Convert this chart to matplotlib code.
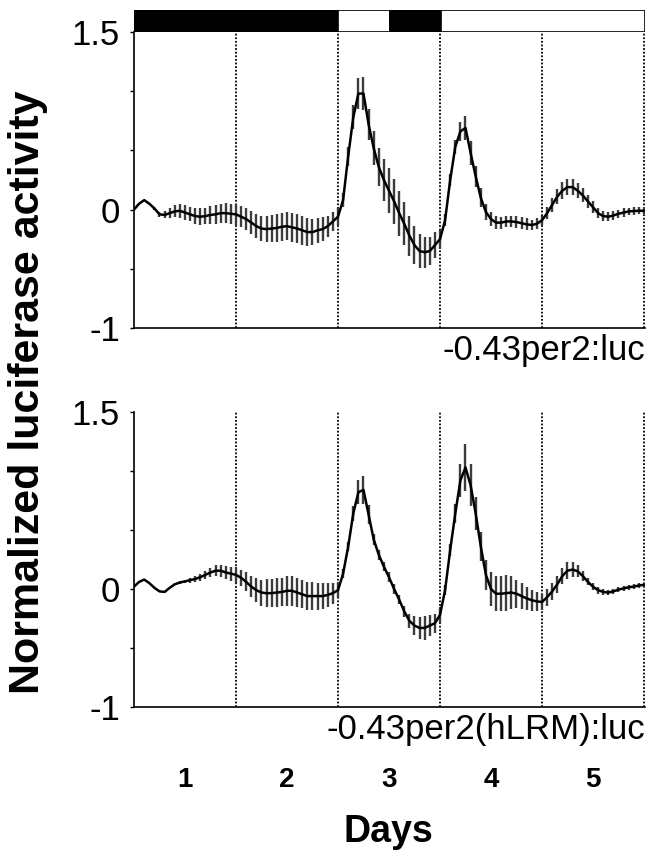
import numpy as np
import matplotlib
matplotlib.use("Agg")
import matplotlib.pyplot as plt

plt.rcParams['font.family'] = ['Liberation Sans', 'DejaVu Sans']

# sampling every 0.05 day (20 points per day), days 0..5
step_days = 0.05

# -0.43per2:luc
top_mean = [
    0.00, 0.05, 0.08, 0.05, 0.01, -0.04, -0.045, -0.03, -0.015, -0.01,
    -0.025, -0.04, -0.055, -0.06, -0.055, -0.045, -0.04, -0.03, -0.03, -0.035,
    -0.04, -0.06, -0.08, -0.11, -0.14, -0.16, -0.165, -0.16, -0.155, -0.145,
    -0.14, -0.15, -0.16, -0.175, -0.19, -0.19, -0.175, -0.165, -0.14, -0.10,
    -0.06, 0.08, 0.45, 0.78, 0.98, 0.98, 0.72, 0.52, 0.36, 0.25,
    0.16, 0.07, -0.03, -0.12, -0.22, -0.30, -0.35, -0.36, -0.35, -0.30,
    -0.25, -0.09, 0.25, 0.53, 0.66, 0.69, 0.48, 0.28, 0.10, -0.02,
    -0.08, -0.11, -0.11, -0.10, -0.10, -0.105, -0.115, -0.125, -0.13, -0.12,
    -0.09, -0.03, 0.04, 0.11, 0.16, 0.19, 0.19, 0.16, 0.12, 0.07,
    0.02, -0.03, -0.055, -0.06, -0.05, -0.035, -0.025, -0.015, -0.012, -0.01,
    -0.01,
]
top_err = [
    0, 0, 0, 0, 0.01, 0.02, 0.03, 0.04, 0.05, 0.06,
    0.06, 0.06, 0.065, 0.07, 0.07, 0.075, 0.08, 0.08, 0.085, 0.085,
    0.09, 0.09, 0.09, 0.095, 0.10, 0.105, 0.11, 0.115, 0.12, 0.12,
    0.12, 0.12, 0.12, 0.12, 0.115, 0.11, 0.105, 0.10, 0.09, 0.08,
    0.07, 0.06, 0.08, 0.10, 0.13, 0.14, 0.13, 0.14, 0.16, 0.18,
    0.19, 0.19, 0.19, 0.18, 0.17, 0.16, 0.14, 0.13, 0.12, 0.11,
    0.08, 0.05, 0.05, 0.06, 0.08, 0.10, 0.10, 0.09, 0.08, 0.07,
    0.06, 0.055, 0.05, 0.05, 0.05, 0.05, 0.05, 0.05, 0.045, 0.045,
    0.04, 0.05, 0.06, 0.065, 0.07, 0.07, 0.07, 0.065, 0.06, 0.055,
    0.05, 0.045, 0.045, 0.04, 0.04, 0.035, 0.035, 0.03, 0.03, 0.03,
    0.03,
]

# -0.43per2(hLRM):luc
bot_mean = [
    0.02, 0.06, 0.08, 0.05, 0.01, -0.02, -0.025, 0.01, 0.04, 0.055,
    0.065, 0.075, 0.085, 0.10, 0.12, 0.14, 0.155, 0.155, 0.14, 0.13,
    0.12, 0.095, 0.06, 0.02, -0.01, -0.03, -0.036, -0.035, -0.03, -0.025,
    -0.015, -0.015, -0.03, -0.045, -0.06, -0.06, -0.06, -0.06, -0.05, -0.035,
    -0.01, 0.13, 0.36, 0.64, 0.82, 0.84, 0.63, 0.42, 0.29, 0.19,
    0.10, 0.00, -0.09, -0.19, -0.27, -0.31, -0.33, -0.33, -0.31, -0.29,
    -0.22, -0.01, 0.33, 0.64, 0.92, 1.03, 0.88, 0.64, 0.36, 0.12,
    0.00, -0.04, -0.04, -0.035, -0.03, -0.04, -0.06, -0.08, -0.095, -0.105,
    -0.11, -0.07, -0.02, 0.04, 0.11, 0.155, 0.165, 0.15, 0.11, 0.06,
    0.02, -0.01, -0.025, -0.03, -0.02, -0.005, 0.005, 0.015, 0.02, 0.03,
    0.035,
]
bot_err = [
    0, 0, 0, 0, 0, 0, 0, 0.005, 0.01, 0.01,
    0.015, 0.02, 0.025, 0.03, 0.035, 0.04, 0.045, 0.05, 0.055, 0.06,
    0.065, 0.07, 0.08, 0.09, 0.10, 0.11, 0.12, 0.12, 0.12, 0.12,
    0.125, 0.125, 0.125, 0.12, 0.12, 0.12, 0.115, 0.11, 0.10, 0.09,
    0.07, 0.04, 0.04, 0.06, 0.10, 0.12, 0.08, 0.05, 0.04, 0.04,
    0.04, 0.04, 0.04, 0.05, 0.06, 0.08, 0.09, 0.10, 0.09, 0.08,
    0.07, 0.04, 0.05, 0.08, 0.14, 0.20, 0.18, 0.14, 0.12, 0.13,
    0.14, 0.15, 0.15, 0.15, 0.14, 0.12, 0.11, 0.10, 0.09, 0.08,
    0.07, 0.07, 0.07, 0.07, 0.07, 0.07, 0.06, 0.05, 0.04, 0.03,
    0.03, 0.03, 0.025, 0.025, 0.02, 0.02, 0.02, 0.02, 0.02, 0.02,
    0.02,
]

# light/dark bar on top
light_start = [0, 2, 2.5, 3]
light_end = [2, 2.5, 3, 5]
light_dark = [True, False, True, False]

day_labels = ['1', '2', '3', '4', '5']
panel_names = ['-0.43per2:luc', '-0.43per2(hLRM):luc']

W, H = 649, 856
fig = plt.figure(figsize=(W / 100, H / 100), dpi=100)

def box(x0, y0, x1, y1):
    # pixel box -> figure fraction
    return [x0 / W, 1 - y1 / H, (x1 - x0) / W, (y1 - y0) / H]

ax_bar = fig.add_axes(box(134, 10, 645, 32))
ax_top = fig.add_axes(box(134, 32, 645, 328))
ax_bot = fig.add_axes(box(134, 412, 645, 707))

# lighting bar
for s, e, dark in zip(light_start, light_end, light_dark):
    ax_bar.barh(0, e - s, left=s, height=1, color='black' if dark else 'white',
                edgecolor='black', linewidth=1.2)
ax_bar.set_xlim(0, 5)
ax_bar.set_ylim(-0.5, 0.5)
ax_bar.axis('off')

for ax, mean, err, name in [(ax_top, top_mean, top_err, panel_names[0]),
                            (ax_bot, bot_mean, bot_err, panel_names[1])]:
    t = np.arange(len(mean)) * step_days
    for d in range(1, 6):
        ax.axvline(d, color='black', linestyle=(0, (1, 1)), linewidth=1.3, zorder=1)
    ax.errorbar(t, mean, yerr=err, fmt='none', ecolor='#3c3c3c',
                elinewidth=1.7, capsize=0, zorder=2)
    ax.plot(t, mean, color='black', linewidth=1.8, zorder=3)
    ax.set_xlim(0, 5.01)
    ax.set_ylim(-1, 1.5)
    ax.spines['top'].set_visible(False)
    ax.spines['right'].set_visible(False)
    ax.spines['left'].set_linewidth(1.2)
    ax.spines['bottom'].set_linewidth(1.2)
    ax.set_xticks([])
    ax.set_yticks([-1, -0.5, 0, 0.5, 1, 1.5])
    ax.set_yticklabels(['-1', '', '0', '', '', '1.5'])
    ax.tick_params(axis='y', direction='out', length=3, width=1,
                   labelsize=25, pad=7)
    ax.text(1.0, -0.02, name, transform=ax.transAxes, ha='right', va='top',
            fontsize=25)

# day numbers under the lower panel
for i, lab in enumerate(day_labels):
    ax_bot.text(i + 0.5, -1.62, lab, ha='center', va='center',
                fontsize=20, fontweight='bold')

fig.text(388 / W, 1 - 832 / H, 'Days', ha='center', va='center',
         fontsize=27, fontweight='bold')
fig.text(28 / W, 1 - 392 / H, 'Normalized luciferase activity', ha='center',
         va='center', rotation=90, fontsize=31, fontweight='bold')

fig.savefig('out.png', dpi=100)
